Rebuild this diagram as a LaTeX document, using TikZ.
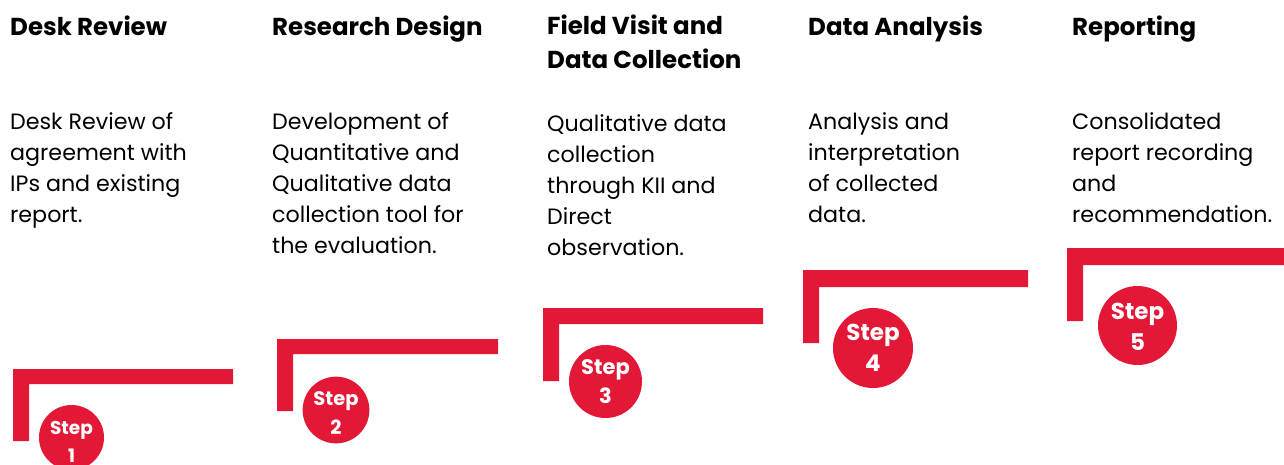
\documentclass[tikz,border=0pt]{standalone}
\usepackage{fontspec}
\setmainfont{Poppins}
\definecolor{stepred}{RGB}{227,24,55}
\begin{document}
\begin{tikzpicture}[x=1pt,y=-1pt,
  head/.style={anchor=north west,inner sep=0pt,align=left,font=\fontsize{24.5}{34}\selectfont\bfseries,text=black},
  body/.style={anchor=north west,inner sep=0pt,align=left,font=\fontsize{22.2}{31}\selectfont,text=black},
  bar/.style={fill=stepred},
  stepc/.style={circle,fill=stepred,text=white,inner sep=0pt,align=center}
]
\useasboundingbox (0,0) rectangle (1284,464);
\clip (0,0) rectangle (1284,464);
% headings
\node[head] (h1) at (10,16) {Desk Review};
\node[head] (h2) at (272,16) {Research Design};
\node[head] (h3) at (547,15) {Field Visit and\\Data Collection};
\node[head] (h4) at (808,16) {Data Analysis};
\node[head] (h5) at (1072,16) {Reporting};
% bodies
\node[body] (b1) at (10,112) {Desk Review of\\agreement with\\IPs and existing\\report.};
\node[body] (b2) at (272,112) {Development of\\Quantitative and\\Qualitative data\\collection tool for\\the evaluation.};
\node[body] (b3) at (547,114) {Qualitative data\\collection\\through KII and\\Direct\\observation.};
\node[body] (b4) at (808,112) {Analysis and\\interpretation\\of collected\\data.};
\node[body] (b5) at (1072,112) {Consolidated\\report recording\\and\\recommendation.};
% L bars
\fill[bar] (13,369) -- (233,369) -- (233,384) -- (29,384) -- (29,441) -- (13,441) -- cycle;
\fill[bar] (277,339) -- (498,339) -- (498,354) -- (293,354) -- (293,411) -- (277,411) -- cycle;
\fill[bar] (543,308) -- (763,308) -- (763,324) -- (559,324) -- (559,381) -- (543,381) -- cycle;
\fill[bar] (803,270) -- (1028,270) -- (1028,287) -- (819,287) -- (819,343) -- (803,343) -- cycle;
\fill[bar] (1067,248) -- (1290,248) -- (1290,265) -- (1083,265) -- (1083,321) -- (1067,321) -- cycle;
% circles
\node[stepc,minimum size=65pt,font=\fontsize{18.5}{28}\selectfont\bfseries] (s1) at (71.5,437.5) {\rule{0pt}{21pt}Step\\1};
\node[stepc,minimum size=66pt,font=\fontsize{19.5}{29}\selectfont\bfseries] (s2) at (336,410) {\rule{0pt}{20pt}Step\\2};
\node[stepc,minimum size=73pt,font=\fontsize{21}{29}\selectfont\bfseries] (s3) at (605.5,381.5) {Step\\3};
\node[stepc,minimum size=80pt,font=\fontsize{23}{31}\selectfont\bfseries] (s4) at (873,348) {Step\\4};
\node[stepc,minimum size=79pt,font=\fontsize{23}{31}\selectfont\bfseries] (s5) at (1137.5,325.5) {\rule{0pt}{19pt}Step\\5};
\end{tikzpicture}
\end{document}
